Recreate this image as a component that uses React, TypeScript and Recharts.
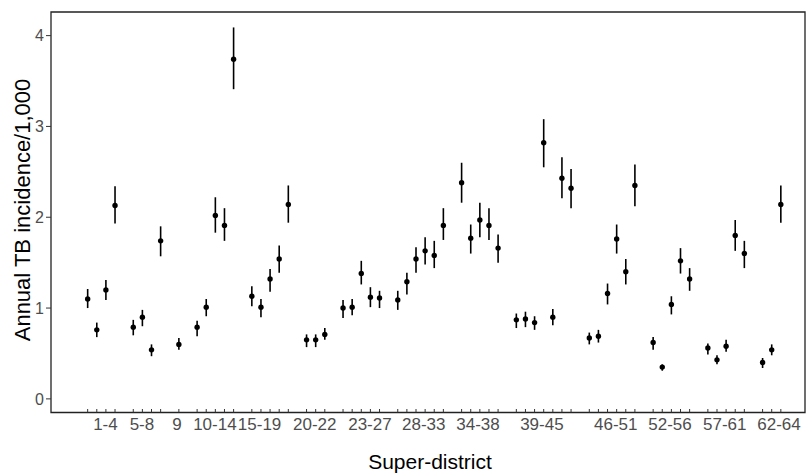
import React from 'react';
import { ComposedChart, Scatter, ErrorBar, XAxis, YAxis, ReferenceArea } from 'recharts';

// super-district groups along the x axis
const groupLabels = ['1-4', '5-8', '9', '10-14', '15-19', '20-22', '23-27', '28-33', '34-38', '39-45', '46-51', '52-56', '57-61', '62-64'];
const groupSizes = [4, 4, 1, 5, 5, 3, 5, 6, 5, 7, 6, 5, 5, 3];
// where each group label sits, in district-slot units
const labelTicks = [1.95, 5.95, 9.8, 13.95, 18.85, 24.9, 30.95, 36.85, 42.8, 49.8, 57.9, 63.85, 69.85, 75.8];

// annual TB incidence per 1,000 with 95% CI, districts 1..64
const incidence = [
  1.10, 0.76, 1.20, 2.13,
  0.79, 0.90, 0.54, 1.74,
  0.60,
  0.79, 1.01, 2.02, 1.91, 3.74,
  1.13, 1.01, 1.32, 1.54, 2.14,
  0.65, 0.65, 0.71,
  1.00, 1.01, 1.38, 1.12, 1.11,
  1.09, 1.29, 1.54, 1.63, 1.58, 1.91,
  2.38, 1.77, 1.97, 1.91, 1.66,
  0.87, 0.88, 0.84, 2.82, 0.90, 2.43, 2.32,
  0.67, 0.69, 1.16, 1.76, 1.40, 2.35,
  0.62, 0.35, 1.04, 1.52, 1.32,
  0.56, 0.43, 0.58, 1.80, 1.60,
  0.40, 0.54, 2.14,
];
const lower = [
  1.00, 0.68, 1.09, 1.93,
  0.70, 0.80, 0.47, 1.57,
  0.54,
  0.69, 0.91, 1.83, 1.74, 3.41,
  1.02, 0.90, 1.18, 1.39, 1.94,
  0.57, 0.57, 0.65,
  0.89, 0.92, 1.26, 1.01, 1.00,
  0.98, 1.15, 1.39, 1.48, 1.44, 1.75,
  2.16, 1.60, 1.78, 1.75, 1.50,
  0.78, 0.79, 0.76, 2.55, 0.81, 2.21, 2.10,
  0.60, 0.62, 1.04, 1.60, 1.26, 2.12,
  0.54, 0.31, 0.93, 1.38, 1.19,
  0.49, 0.38, 0.52, 1.63, 1.44,
  0.34, 0.48, 1.94,
];
const upper = [
  1.21, 0.84, 1.31, 2.34,
  0.87, 0.98, 0.60, 1.90,
  0.67,
  0.86, 1.10, 2.22, 2.10, 4.09,
  1.24, 1.10, 1.43, 1.69, 2.35,
  0.71, 0.71, 0.78,
  1.09, 1.10, 1.52, 1.23, 1.19,
  1.19, 1.39, 1.67, 1.78, 1.74, 2.10,
  2.60, 1.92, 2.16, 2.10, 1.81,
  0.94, 0.96, 0.91, 3.08, 0.99, 2.66, 2.53,
  0.73, 0.76, 1.27, 1.92, 1.54, 2.58,
  0.68, 0.38, 1.13, 1.66, 1.44,
  0.61, 0.48, 0.65, 1.97, 1.74,
  0.45, 0.60, 2.35,
];

const yTicks = [0, 1, 2, 3, 4];

const X_DOMAIN: [number, number] = [-4.02, 78.65];
const Y_DOMAIN: [number, number] = [-0.15, 4.26];
const FONT = '"Liberation Sans", Arial, sans-serif';

// one slot per district, with an empty slot between groups
const slots: number[] = [];
let pos = 0;
groupSizes.forEach((n) => {
  for (let i = 0; i < n; i++) slots.push(pos++);
  pos++;
});

const data = incidence.map((v, i) => ({
  x: slots[i],
  y: v,
  err: [+(v - lower[i]).toFixed(2), +(upper[i] - v).toFixed(2)],
}));

// integer ticks are district slots (small inward mark), the rest carry group labels
const XTick = (props: any) => {
  const v = props.payload.value;
  if (Number.isInteger(v)) {
    return <line x1={props.x} x2={props.x} y1={props.y} y2={props.y - 3.5} stroke="#333" strokeWidth={1} />;
  }
  return (
    <text x={props.x} y={props.y + 17.5} textAnchor="middle" fontSize={17} fontFamily={FONT} fill="#4d4d4d">
      {groupLabels[labelTicks.indexOf(v)]}
    </text>
  );
};

const Dot = (props: any) => <circle cx={props.cx} cy={props.cy} r={2.7} fill="#000" />;

export default function App() {
  return (
    <div style={{ position: 'absolute', left: 0, top: 0, width: 806, height: 474, background: '#fff' }}>
      <ComposedChart width={806} height={474} data={data} margin={{ top: 12, right: 1, bottom: 0, left: 0 }}>
        <XAxis
          dataKey="x"
          type="number"
          domain={X_DOMAIN}
          allowDataOverflow
          ticks={[...slots, ...labelTicks]}
          interval={0}
          height={61.5}
          tickSize={0}
          tickMargin={0}
          tickLine={false}
          axisLine={false}
          tick={XTick}
          label={{
            content: () => (
              <text x={430} y={469} textAnchor="middle" fontSize={21} fontFamily={FONT} fill="#000">
                Super-district
              </text>
            ),
          }}
        />
        <YAxis
          type="number"
          domain={Y_DOMAIN}
          allowDataOverflow
          ticks={yTicks}
          width={51}
          tickSize={5}
          tickMargin={2}
          axisLine={false}
          tickLine={{ stroke: '#333' }}
          tick={{ fontSize: 16, fontFamily: FONT, fill: '#4d4d4d' }}
          label={{
            content: () => (
              <text
                x={29.5}
                y={210}
                transform="rotate(-90 29.5 210)"
                textAnchor="middle"
                fontSize={22}
                fontFamily={FONT}
                fill="#000"
              >
                Annual TB incidence/1,000
              </text>
            ),
          }}
        />
        <ReferenceArea
          x1={X_DOMAIN[0]}
          x2={X_DOMAIN[1]}
          y1={Y_DOMAIN[0]}
          y2={Y_DOMAIN[1]}
          fill="none"
          stroke="#222"
          strokeWidth={1.3}
          ifOverflow="visible"
        />
        <Scatter dataKey="y" shape={Dot} isAnimationActive={false}>
          <ErrorBar dataKey="err" direction="y" width={0} stroke="#000" strokeWidth={1.6} isAnimationActive={false} />
        </Scatter>
      </ComposedChart>
    </div>
  );
}
